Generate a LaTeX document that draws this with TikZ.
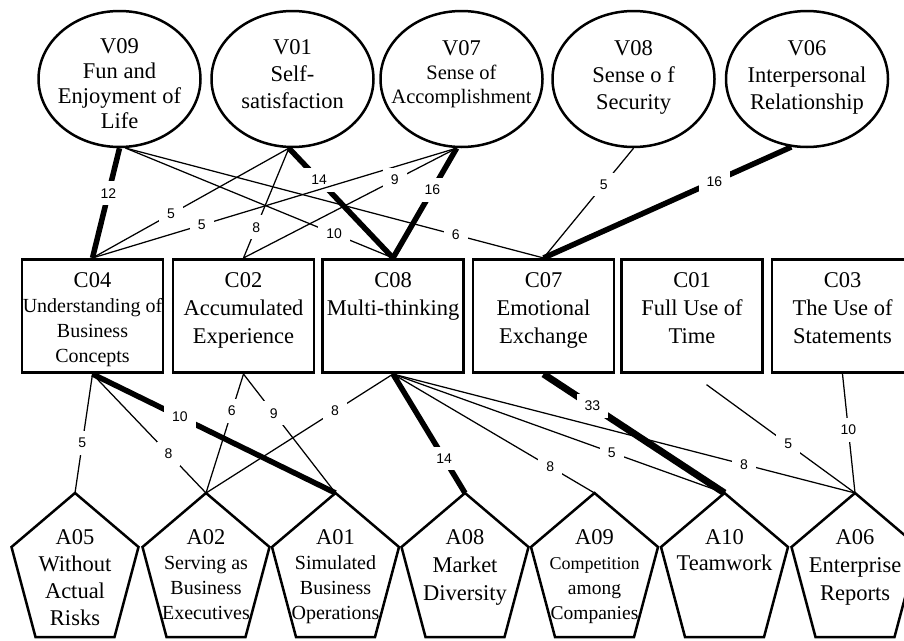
\documentclass[tikz,border=0pt]{standalone}
\usepackage{fontspec}
\setmainfont{Liberation Serif}
\newfontfamily\lblfont{Liberation Sans}
\usetikzlibrary{shapes.geometric}
\begin{document}
\begin{tikzpicture}[x=1pt,y=-1pt,
 ell/.style={ellipse,draw,line width=2.5pt,minimum width=162pt,minimum height=136pt,inner sep=0pt},
 box/.style={rectangle,draw,line width=2.6pt,minimum width=141pt,minimum height=113.5pt,inner sep=0pt},
 pent/.style={line width=2.5pt,line join=miter},
 txt/.style={align=center,inner sep=0pt,anchor=north,font=\fontsize{22.5}{27}\selectfont},
 thinln/.style={line width=1.25pt},
 thickln/.style={line width=5.5pt},
 lbl/.style={fill=white,font=\lblfont\fontsize{14}{16}\selectfont,inner xsep=8pt,inner ysep=7pt}
]
\useasboundingbox (0,0) rectangle (904,640);

% ellipses
\node[ell] (V09) at (119.5,79) {};
\node[ell] (V01) at (292.5,79) {};
\node[ell] (V07) at (461.5,79) {};
\node[ell] (V08) at (633.5,79) {};
\node[ell] (V06) at (807,79) {};
\node[txt,font=\fontsize{22.5}{25}\selectfont] (V09t) at (119.5,38.5) {V09\\Fun and\\Enjoyment of\\Life};
\node[txt] (V01t) at (292.5,39) {V01\\Self-\\satisfaction};
\node[txt,font=\fontsize{22.5}{24}\selectfont] (V07t) at (461.5,40.5) {V07\\{\fontsize{20.5}{24}\selectfont Sense of}\\{\fontsize{20.5}{24}\selectfont Accomplishment}};
\node[txt] (V08t) at (633.5,40) {V08\\Sense o f\\Security};
\node[txt] (V06t) at (807,40) {V06\\Interpersonal\\Relationship};

% boxes
\node[box] (C04) at (92.5,316) {};
\node[box] (C02) at (243.5,316) {};
\node[box] (C08) at (393,316) {};
\node[box] (C07) at (543.5,316) {};
\node[box] (C01) at (692,316) {};
\node[box] (C03) at (842.5,316) {};
\node[txt,font=\fontsize{22.5}{25}\selectfont] (C04t) at (92.5,272.5) {C04\\{\fontsize{20}{25}\selectfont Understanding of}\\{\fontsize{20}{25}\selectfont Business}\\{\fontsize{20}{25}\selectfont Concepts}};
\node[txt,font=\fontsize{22.5}{28}\selectfont] (C02t) at (243.5,272.5) {C02\\Accumulated\\Experience};
\node[txt,font=\fontsize{22.5}{28}\selectfont] (C08t) at (393,272.5) {C08\\Multi-thinking};
\node[txt,font=\fontsize{22.5}{28}\selectfont] (C07t) at (543.5,272.5) {C07\\Emotional\\Exchange};
\node[txt,font=\fontsize{22.5}{28}\selectfont] (C01t) at (692,272.5) {C01\\Full Use of\\Time};
\node[txt,font=\fontsize{22.5}{28}\selectfont] (C03t) at (842.5,272.5) {C03\\The Use of\\Statements};

% pentagons
\foreach \n/\x in {A05/75,A02/206,A01/335.5,A08/465,A09/594.5,A10/724.5,A06/855}{
  \coordinate (\n) at (\x,493);
  \draw[pent] (\n) -- ++(63.5,54) -- ++(-24,90) -- ++(-79,0) -- ++(-24,-90) -- cycle;
}
\node[txt] (A05t) at (75,529.5) {A05\\Without\\Actual\\Risks};
\node[txt,font=\fontsize{22.5}{25}\selectfont] (A02t) at (206,529.5) {A02\\{\fontsize{20}{25}\selectfont Serving as}\\{\fontsize{20}{25}\selectfont Business}\\{\fontsize{20}{25}\selectfont Executives}};
\node[txt,font=\fontsize{22.5}{25}\selectfont] (A01t) at (335.5,529.5) {A01\\{\fontsize{20}{25}\selectfont Simulated}\\{\fontsize{20}{25}\selectfont Business}\\{\fontsize{20}{25}\selectfont Operations}};
\node[txt,font=\fontsize{22.5}{28}\selectfont] (A08t) at (465,529.5) {A08\\Market\\Diversity};
\node[txt,font=\fontsize{22.5}{25}\selectfont] (A09t) at (594.5,529.5) {A09\\{\fontsize{18}{25}\selectfont Competition}\\{\fontsize{19.5}{25}\selectfont among}\\{\fontsize{19.5}{25}\selectfont Companies}};
\node[txt,font=\fontsize{22.5}{26}\selectfont] (A10t) at (724.5,529.5) {A10\\Teamwork};
\node[txt,font=\fontsize{22.5}{28}\selectfont] (A06t) at (855,529.5) {A06\\Enterprise\\Reports};

% upper connectors
\draw[thickln] (V09.south) -- (C04.north) node[lbl,pos=0.41] {12};
\draw[thinln] (V09.275) -- (C08.north) node[lbl,pos=0.78] {10};
\draw[thinln] (V09.275) -- (C07.north) node[lbl,pos=0.79] {6};
\draw[thinln] (V01.267) -- (C04.north) node[lbl,pos=0.6] {5};
\draw[thinln] (V01.267) -- (C02.north) node[lbl,pos=0.72] {8};
\draw[thickln] (V01.267) -- (C08.north) node[lbl,pos=0.29] {14};
\draw[thinln] (V07.266) -- (C04.north) node[lbl,pos=0.70] {5};
\draw[thinln] (V07.266) -- (C02.north) node[lbl,pos=0.29] {9};
\draw[thickln] (V07.266) -- (C08.north) node[lbl,pos=0.38] {16};
\draw[thinln] (V08.south) -- (C07.north) node[lbl,pos=0.33] {5};
\draw[thickln] (V06.257) -- (C07.north) node[lbl,pos=0.31] {16};

% lower connectors
\draw[thinln] (C04.south) -- (A05) node[lbl,pos=0.58] {5};
\draw[thinln] (C04.south) -- (A02) node[lbl,pos=0.67] {8};
\draw[thickln] (C04.south) -- (A01) node[lbl,pos=0.36] {10};
\draw[thinln] (C02.south) -- (A02) node[lbl,pos=0.31] {6};
\draw[thinln] (C02.south) -- (A01) node[lbl,pos=0.33] {9};
\draw[thinln] (C08.south) -- (A02) node[lbl,pos=0.31] {8};
\draw[thickln] (C08.south) -- (A08) node[lbl,pos=0.71] {14};
\draw[thinln] (C08.south) -- (A09) node[lbl,pos=0.78] {8};
\draw[thinln] (C08.south) -- (A10) node[lbl,pos=0.66] {5};
\draw[thinln] (C08.south) -- (A06) node[lbl,pos=0.76] {8};
\draw[line width=7pt] (C07.south) -- (A10) node[lbl,pos=0.27] {33};
\draw[thinln,shorten <=18pt] (C01.south) -- (A06) node[lbl,pos=0.59] {5};
\draw[thinln] (C03.south) -- (A06) node[lbl,pos=0.47] {10};
\end{tikzpicture}
\end{document}
